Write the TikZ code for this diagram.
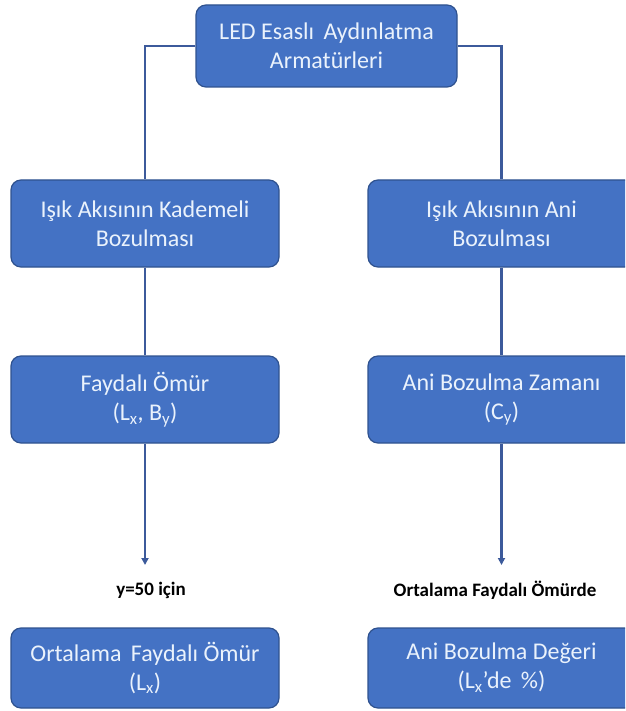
\documentclass[tikz,border=0pt]{standalone}
\usepackage{fontspec}
\setmainfont{Carlito}
\usepackage{tikz}
\usetikzlibrary{arrows.meta}

\definecolor{boxblue}{RGB}{68,114,196}
\definecolor{boxedge}{RGB}{47,82,143}
\definecolor{linkblue}{RGB}{60,90,155}
\definecolor{boxtext}{RGB}{234,242,252}

\begin{document}
\begin{tikzpicture}[x=1pt,y=1pt,yscale=-1,xscale=1,
    levelbox/.style={draw=boxedge,line width=1.2pt,fill=boxblue,rounded corners=10pt,
        text=boxtext,align=center,inner sep=0pt,font=\fontsize{24}{29}\selectfont},
    link/.style={draw=linkblue,line width=2.4pt},
    notelabel/.style={font=\fontsize{19}{22}\selectfont\bfseries,inner sep=0.75pt}]
            \useasboundingbox (0,0) rectangle (625,711);
            \clip (0,0) rectangle (625,711);

            % Text Node
            \node (led) [levelbox,minimum width=261,minimum height=82] at (326.5,46) {LED Esaslı\, Aydınlatma\\Armatürleri};
            % Text Node
            \node (kademeli) [levelbox,minimum width=268,minimum height=87] at (145,223.5) {Işık Akısının Kademeli\\Bozulması};
            % Text Node
            \node (ani) [levelbox,minimum width=267,minimum height=87] at (501.5,223.5) {Işık Akısının Ani\\Bozulması};
            % Text Node
            \node (faydali) [levelbox,minimum width=268,minimum height=87] at (145,399.5) {Faydalı Ömür\\(L\textsubscript{x}, B\textsubscript{y})};
            % Text Node
            \node (zaman) [levelbox,minimum width=267,minimum height=87] at (501.5,399.5) {Ani Bozulma Zamanı\\(C\textsubscript{y})};
            % Text Node
            \node (ortalama) [levelbox,minimum width=268,minimum height=80] at (145,668) {Ortalama\, Faydalı Ömür\\(L\textsubscript{x})};
            % Text Node
            \node (deger) [levelbox,minimum width=267,minimum height=80] at (501.5,668) {Ani Bozulma Değeri\\(L\textsubscript{x}’de\, \%)};
            % Text Node
            \node (icin) [notelabel] at (151,590) {y=50 için};
            % Text Node
            \node (omurde) [notelabel] at (495,590) {Ortalama Faydalı Ömürde};

            \coordinate (tipleft) at (145,565);
            \coordinate (tipright) at (501.5,565);

            %Straight Lines
            \draw [link] (led.west) -| (kademeli.north);
            \draw [link] (led.east) -| (ani.north);
            \draw [link] (kademeli.south) -- (faydali.north);
            \draw [link] (ani.south) -- (zaman.north);
            %Arrows
            \draw [link,-{Triangle[width=7pt,length=7pt]}] (faydali.south) -- (tipleft);
            \draw [link,-{Triangle[width=7pt,length=7pt]}] (zaman.south) -- (tipright);

\end{tikzpicture}
\end{document}
